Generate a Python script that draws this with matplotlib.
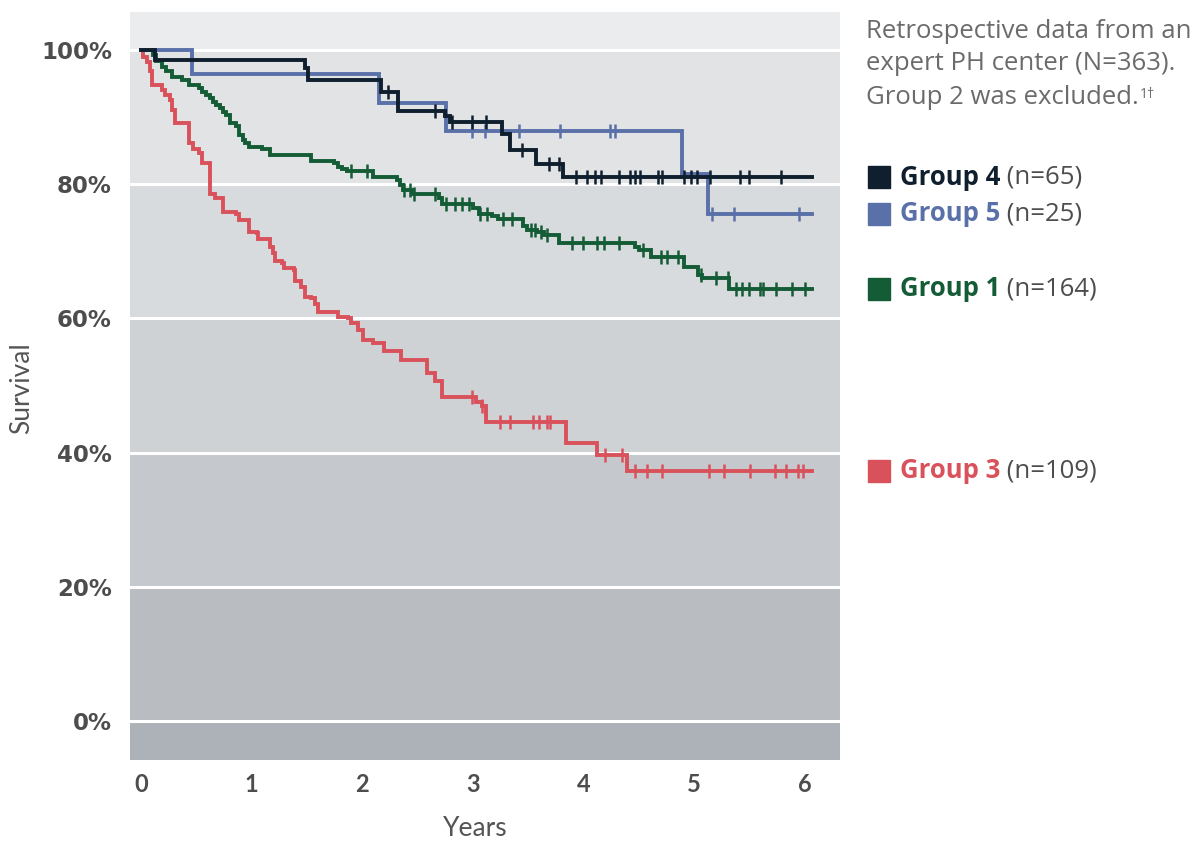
import numpy as np
import matplotlib
matplotlib.use("Agg")
import matplotlib.pyplot as plt
import matplotlib.transforms as mtransforms

plt.rcParams['font.family'] = ['Lato', 'DejaVu Sans']

# Kaplan-Meier steps (years, survival %)
g4_t = [0, 0.13, 1.48, 1.51, 2.17, 2.32, 2.75, 2.79, 3.26, 3.33, 3.57, 3.81, 6.06]
g4_s = [100, 98.5, 97.3, 95.5, 93.8, 90.9, 90.2, 89.3, 87.5, 85.1, 83.0, 81.0, 81.0]
g4_c = [2.23, 2.66, 2.81, 2.99, 3.12, 3.44, 3.69, 3.78, 3.93, 4.03, 4.10, 4.16,
        4.32, 4.42, 4.46, 4.51, 4.67, 4.71, 4.91, 4.97, 5.02, 5.14, 5.41, 5.49, 5.78]

g5_t = [0, 0.46, 2.15, 2.76, 4.89, 5.12, 6.06]
g5_s = [100, 96.4, 92.1, 87.9, 81.5, 75.6, 75.6]
g5_c = [2.99, 3.11, 3.42, 3.79, 4.24, 4.28, 5.16, 5.36, 5.95]

g1_t = [0, 0.11, 0.14, 0.19, 0.23, 0.28, 0.37, 0.43, 0.52, 0.55, 0.59, 0.62, 0.65,
        0.68, 0.71, 0.74, 0.77, 0.80, 0.86, 0.89, 0.92, 0.94, 0.98, 1.09, 1.17,
        1.54, 1.74, 1.78, 1.82, 1.86, 2.10, 2.31, 2.34, 2.37, 2.45, 2.69, 2.72,
        3.00, 3.05, 3.17, 3.23, 3.45, 3.49, 3.58, 3.64, 3.78, 4.46, 4.50, 4.61,
        4.91, 5.03, 5.07, 5.31, 6.06]
g1_s = [100, 99.2, 98.3, 97.5, 96.8, 96.0, 95.5, 94.8, 94.3, 93.8, 93.3, 92.8, 92.3,
        91.8, 91.3, 90.8, 90.3, 89.1, 88.6, 87.3, 86.6, 86.1, 85.6, 85.3, 84.3,
        83.5, 83.1, 82.6, 82.2, 81.9, 81.1, 80.6, 79.9, 79.1, 78.6, 77.9, 77.1,
        76.4, 75.6, 75.2, 74.8, 73.7, 73.2, 72.9, 72.5, 71.3, 70.7, 70.2, 69.1,
        67.6, 66.5, 66.0, 64.4, 64.4]
g1_c = [1.90, 2.04, 2.38, 2.43, 2.47, 2.66, 2.76, 2.84, 2.90, 2.96, 3.06, 3.13,
        3.27, 3.35, 3.52, 3.56, 3.61, 3.67, 3.89, 3.99, 4.12, 4.18, 4.32, 4.54,
        4.70, 4.75, 4.85, 5.06, 5.20, 5.30, 5.38, 5.43, 5.49, 5.59, 5.62, 5.74,
        5.88, 6.00]

g3_t = [0, 0.02, 0.05, 0.08, 0.10, 0.19, 0.22, 0.26, 0.28, 0.31, 0.43, 0.47, 0.52,
        0.55, 0.62, 0.67, 0.74, 0.86, 0.89, 0.98, 1.05, 1.06, 1.17, 1.19, 1.21,
        1.27, 1.29, 1.38, 1.39, 1.45, 1.48, 1.54, 1.57, 1.60, 1.78, 1.87, 1.90,
        1.96, 2.01, 2.10, 2.20, 2.35, 2.58, 2.66, 2.72, 3.03, 3.08, 3.12, 3.84,
        4.12, 4.39, 6.06]
g3_s = [100, 98.9, 98.2, 96.8, 94.8, 94.0, 93.3, 92.5, 91.0, 89.1, 86.1, 85.3, 84.6,
        83.1, 78.6, 77.9, 75.9, 75.6, 74.7, 72.9, 72.7, 71.9, 70.7, 69.7, 68.5,
        68.2, 67.5, 67.2, 65.5, 64.7, 63.2, 63.0, 62.2, 61.0, 60.2, 60.0, 59.3,
        58.3, 56.8, 56.3, 55.1, 53.8, 51.8, 50.6, 48.3, 47.6, 47.0, 44.6, 41.4,
        39.6, 37.3, 37.3]
g3_c = [2.99, 3.08, 3.24, 3.33, 3.54, 3.60, 3.67, 3.70, 4.19, 4.35, 4.46, 4.57,
        4.71, 5.13, 5.27, 5.50, 5.73, 5.83, 5.94, 5.98]

groups = ["Group 1", "Group 3", "Group 5", "Group 4"]
counts = ["(n=164)", "(n=109)", "(n=25)", "(n=65)"]
colors = ["#145c36", "#d9525b", "#5a70a8", "#0f1f2e"]
series = [(g1_t, g1_s, g1_c), (g3_t, g3_s, g3_c), (g5_t, g5_s, g5_c), (g4_t, g4_s, g4_c)]

note_lines = ["Retrospective data from an", "expert PH center (N=363).", "Group 2 was excluded."]

bands = [(-10, 0, "#adb2b9"), (0, 20, "#b9bdc2"), (20, 40, "#c5c8cc"),
         (40, 60, "#cfd2d5"), (60, 80, "#d8dbde"), (80, 100, "#e2e3e5"),
         (100, 110, "#ebecee")]

fig = plt.figure(figsize=(12, 8.42), dpi=100)
ax = fig.add_axes([130 / 1200, 1 - 760 / 842, 710 / 1200, 748 / 842])

for lo, hi, c in bands:
    ax.axhspan(lo, hi, color=c, lw=0, zorder=0)
for y in range(0, 101, 20):
    ax.axhline(y, color="white", lw=2.2, zorder=1)

for (t, s, cens), col in zip(series, colors):
    t = np.array(t)
    s = np.array(s)
    ax.plot(t, s, drawstyle="steps-post", color=col, lw=2.8, zorder=3,
            solid_joinstyle="miter")
    cens = np.array(cens)
    idx = np.searchsorted(t, cens, side="right") - 1
    ax.plot(cens, s[idx], ls="none", marker="|", ms=9.5, mew=1.8, color=col, zorder=4)

ax.set_xlim(-0.0994, 6.316)
ax.set_ylim(-5.81, 105.66)
ax.set_xticks(range(0, 7))
ax.set_yticks(range(0, 101, 20))
ax.set_yticklabels([f"{v}%" for v in range(0, 101, 20)], fontfamily="DejaVu Sans",
                   fontweight="bold", fontsize=16.5, color="#4d4d4d")
ax.set_xticklabels([str(v) for v in range(0, 7)], fontweight="bold", fontsize=17,
                   color="#4d4d4d")
ax.tick_params(axis="y", length=0, pad=13)
ax.tick_params(axis="x", length=0, pad=9)
for sp in ax.spines.values():
    sp.set_visible(False)

fig.text(22 / 1200, 1 - 388 / 842, "Survival", rotation=90, ha="center", va="center",
         fontsize=19, color="#555555")
fig.text(475 / 1200, 1 - 829 / 842, "Years", ha="center", va="center",
         fontsize=19, color="#555555")

# note at top right
last = None
for i, line in enumerate(note_lines):
    last = fig.text(866 / 1200, 1 - (31 + 33 * i) / 842, line, ha="left", va="center",
                    fontsize=18.5, color="#6b6b6b", fontfamily=["Open Sans", "DejaVu Sans"])
ax.annotate("1\u2020", xy=(1, 1), xycoords=last, xytext=(1, -2),
            textcoords="offset points", ha="left", va="top", fontsize=10,
            color="#6b6b6b", fontfamily=["Open Sans", "DejaVu Sans"])

trans = mtransforms.blended_transform_factory(fig.transFigure, ax.transData)
for (t, s, cens), name, cnt, col in zip(series, groups, counts, colors):
    yv = s[-1]
    ax.plot([879 / 1200], [yv], marker="s", ms=16, color=col, transform=trans,
            clip_on=False, ls="none")
    t1 = ax.text(900 / 1200, yv, name, transform=trans, ha="left", va="center",
                 fontsize=18.5, fontweight="bold", color=col,
                 fontfamily=["Open Sans", "DejaVu Sans"])
    ax.annotate(" " + cnt, xy=(1, 0.5), xycoords=t1, ha="left", va="center",
                fontsize=18.5, color="#4d4d4d", fontfamily=["Open Sans", "DejaVu Sans"])

fig.savefig("out.png", dpi=100)
